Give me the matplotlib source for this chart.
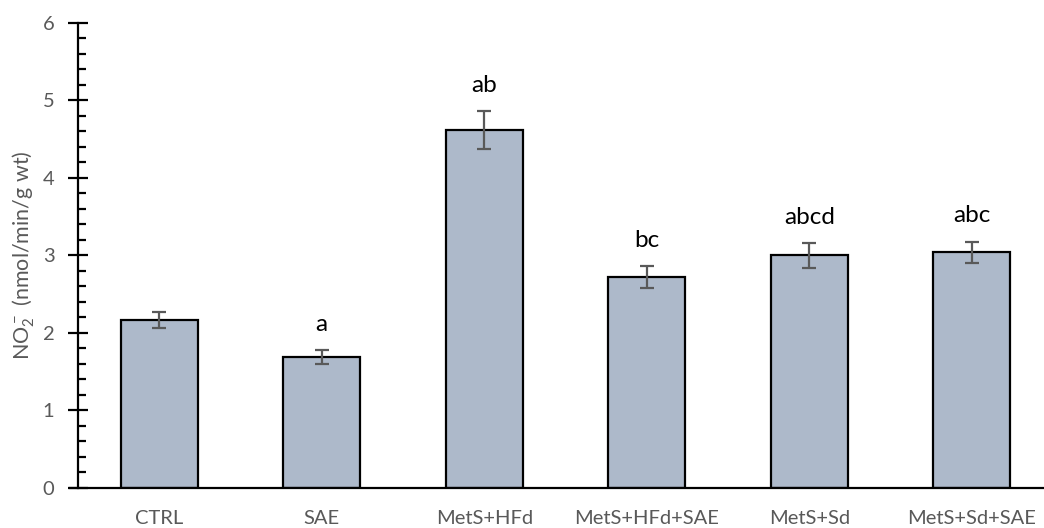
import matplotlib.pyplot as plt
from matplotlib.ticker import MultipleLocator

groups = ["CTRL", "SAE", "MetS+HFd", "MetS+HFd+SAE", "MetS+Sd", "MetS+Sd+SAE"]
no2 = [2.17, 1.69, 4.62, 2.72, 3.00, 3.04]
sem = [0.10, 0.09, 0.24, 0.14, 0.16, 0.14]
letters = ["", "a", "ab", "bc", "abcd", "abc"]

plt.rcParams['font.family'] = ['Lato', 'DejaVu Sans']
grey = '#595959'

fig = plt.figure(figsize=(10.44, 5.28), dpi=100)
ax = fig.add_axes([0.0747, 0.0758, 0.934, 0.8807])

x = range(len(groups))
ax.bar(x, no2, width=0.475, color='#ADB9CA', edgecolor='black', linewidth=1.6, zorder=2)
ax.errorbar(x, no2, yerr=sem, fmt='none', ecolor=grey, elinewidth=1.6,
            capsize=4.8, capthick=1.6, zorder=3)

for i, lab in enumerate(letters):
    if lab:
        ax.text(i, no2[i] + sem[i] + 0.2, lab, ha='center', va='bottom',
                fontsize=17.5, color='black')

ax.set_xlim(-0.5, 5.5)
ax.set_ylim(0, 6)
ax.set_xticks(list(x))
ax.set_xticklabels(groups, fontsize=14.5, color=grey)
ax.tick_params(axis='x', length=0, pad=16)
ax.yaxis.set_major_locator(MultipleLocator(1))
ax.yaxis.set_minor_locator(MultipleLocator(0.2))
ax.tick_params(axis='y', which='major', direction='inout', length=14, width=1.6,
               labelsize=14.5, labelcolor=grey, pad=10)
ax.tick_params(axis='y', which='minor', direction='in', length=6, width=1.6)
ax.set_ylabel(r"NO$\mathregular{_2^-}$ (nmol/min/g wt)", fontsize=15.5, color=grey, labelpad=4)

for s in ['top', 'right']:
    ax.spines[s].set_visible(False)
for s in ['left', 'bottom']:
    ax.spines[s].set_linewidth(1.6)
ax.spines['bottom'].set_bounds(-0.55, 5.5)

fig.savefig('out.png', dpi=100)
